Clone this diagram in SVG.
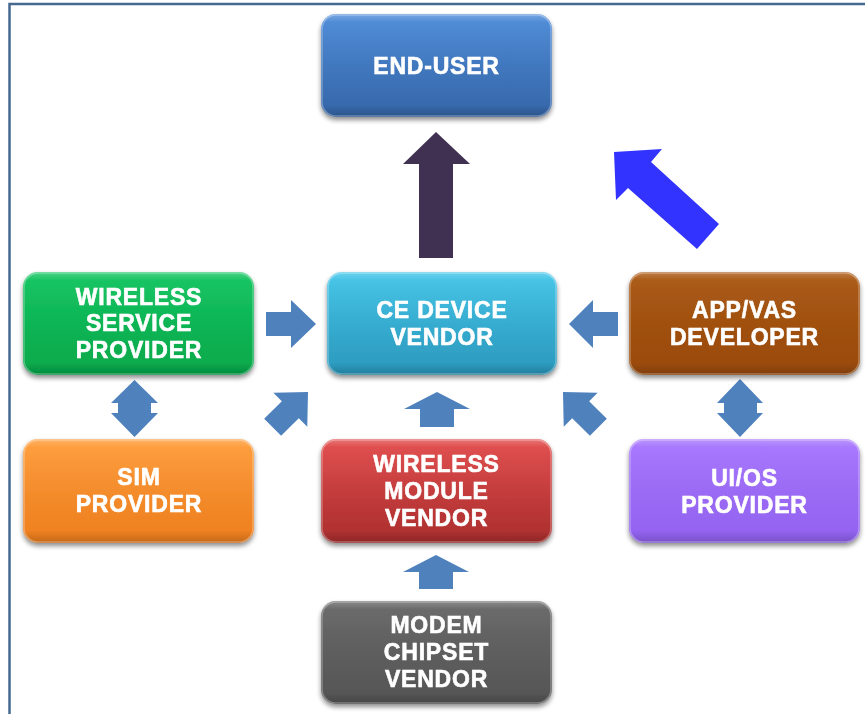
<svg xmlns="http://www.w3.org/2000/svg" width="865" height="714" viewBox="0 0 865 714">
  <style>
    .lbl { font-family: "Liberation Sans", Arial, sans-serif; font-weight: bold; font-size: 23px; fill: #ffffff; stroke: #ffffff; stroke-width: 0.6px; text-anchor: middle; letter-spacing: 0.8px; }
    .box { filter: url(#shadow); }
    .gloss { fill: url(#gloss); }
    .rim { fill: none; stroke: #ffffff; stroke-opacity: 0.3; stroke-width: 1.5; }
    .blk { fill: #4f81bd; }
  </style>
  <defs>
    <filter id="shadow" x="-10%" y="-10%" width="120%" height="130%">
      <feGaussianBlur in="SourceAlpha" stdDeviation="2.5"/>
      <feOffset dx="0" dy="3" result="b"/>
      <feComponentTransfer><feFuncA type="linear" slope="0.45"/></feComponentTransfer>
      <feMerge><feMergeNode/><feMergeNode in="SourceGraphic"/></feMerge>
    </filter>
    <linearGradient id="gloss" x1="0" y1="0" x2="0" y2="1">
      <stop offset="0" stop-color="#ffffff" stop-opacity="0.25"/>
      <stop offset="0.08" stop-color="#ffffff" stop-opacity="0.04"/>
      <stop offset="0.88" stop-color="#000000" stop-opacity="0"/>
      <stop offset="1" stop-color="#000000" stop-opacity="0.18"/>
    </linearGradient>
    <linearGradient id="gBlue" x1="0" y1="0" x2="0" y2="1"><stop offset="0" stop-color="#4b8ad8"/><stop offset="1" stop-color="#3566a8"/></linearGradient>
    <linearGradient id="gGreen" x1="0" y1="0" x2="0" y2="1"><stop offset="0" stop-color="#10c45e"/><stop offset="1" stop-color="#06a84a"/></linearGradient>
    <linearGradient id="gCyan" x1="0" y1="0" x2="0" y2="1"><stop offset="0" stop-color="#40c4e8"/><stop offset="1" stop-color="#2b98bc"/></linearGradient>
    <linearGradient id="gBrown" x1="0" y1="0" x2="0" y2="1"><stop offset="0" stop-color="#a9560f"/><stop offset="1" stop-color="#9a4a0b"/></linearGradient>
    <linearGradient id="gOrange" x1="0" y1="0" x2="0" y2="1"><stop offset="0" stop-color="#ff9c38"/><stop offset="1" stop-color="#ee7e1e"/></linearGradient>
    <linearGradient id="gRed" x1="0" y1="0" x2="0" y2="1"><stop offset="0" stop-color="#e24a4a"/><stop offset="1" stop-color="#aa2e2e"/></linearGradient>
    <linearGradient id="gPurple" x1="0" y1="0" x2="0" y2="1"><stop offset="0" stop-color="#a674ff"/><stop offset="1" stop-color="#9262f0"/></linearGradient>
    <linearGradient id="gGrey" x1="0" y1="0" x2="0" y2="1"><stop offset="0" stop-color="#666666"/><stop offset="1" stop-color="#555555"/></linearGradient>
  </defs>

  <rect width="865" height="714" fill="#ffffff"/>
  <!-- outer frame (top and left edges) -->
  <path d="M9.5 714 V4 H865" fill="none" stroke="#45698f" stroke-width="2.5"/>

  <g id="connectors">
    <!-- CE device vendor to end-user -->
    <polygon points="436,132 470,164 453,164 453,258 419,258 419,164 403,164" fill="#403152"/>
    <!-- app/vas developer to end-user -->
    <polygon points="614,152 662,149 651,162 719,224 697,249 628,188 616,200" fill="#3333ff"/>
    <!-- wireless service provider to CE device vendor -->
    <polygon class="blk" points="266,312 291,312 291,300 316,324 291,348 291,336 266,336"/>
    <!-- app/vas developer to CE device vendor -->
    <polygon class="blk" points="618,312 593,312 593,300 569,324 593,348 593,336 618,336"/>
    <!-- wireless module vendor to CE device vendor -->
    <polygon class="blk" points="437,392 470,409 454,409 454,427 420,427 420,409 404,409"/>
    <!-- modem chipset vendor to wireless module vendor -->
    <polygon class="blk" points="436,555 469,572 453,572 453,589 419,589 419,572 403,572"/>
    <!-- SIM provider to CE device vendor (diagonal) -->
    <polygon class="blk" points="0,-12 25,-12 25,-24 50,0 25,24 25,12 0,12" transform="translate(308,392) rotate(-45) translate(-50,0)"/>
    <!-- UI/OS provider to CE device vendor (diagonal) -->
    <polygon class="blk" points="0,-12 25,-12 25,-24 50,0 25,24 25,12 0,12" transform="translate(563,392) rotate(-135) translate(-50,0)"/>
    <!-- wireless service provider <-> SIM provider -->
    <polygon class="blk" points="134.5,380 158,403 151,403 151,413 158,413 134.5,437 111,413 118,413 118,403 111,403"/>
    <!-- app/vas developer <-> UI/OS provider -->
    <polygon class="blk" points="740,379 763,403 757,403 757,413 763,413 740,437 717,413 724,413 724,403 717,403"/>
  </g>

  <g id="end-user" class="box">
    <rect x="321" y="14" width="231" height="103" rx="15" fill="url(#gBlue)"/>
    <rect class="gloss" x="321" y="14" width="231" height="103" rx="15"/>
    <rect class="rim" x="322" y="15" width="229" height="101" rx="14"/>
    <text class="lbl" x="436.5" y="74">END-USER</text>
  </g>

  <g id="wireless-service-provider" class="box">
    <rect x="23" y="272" width="231" height="103" rx="15" fill="url(#gGreen)"/>
    <rect class="gloss" x="23" y="272" width="231" height="103" rx="15"/>
    <rect class="rim" x="24" y="273" width="229" height="101" rx="14"/>
    <text class="lbl" x="139" y="305">WIRELESS</text>
    <text class="lbl" x="139" y="331">SERVICE</text>
    <text class="lbl" x="139" y="358">PROVIDER</text>
  </g>

  <g id="ce-device-vendor" class="box">
    <rect x="327" y="272" width="230" height="103" rx="15" fill="url(#gCyan)"/>
    <rect class="gloss" x="327" y="272" width="230" height="103" rx="15"/>
    <rect class="rim" x="328" y="273" width="228" height="101" rx="14"/>
    <text class="lbl" x="442" y="318">CE DEVICE</text>
    <text class="lbl" x="442" y="345">VENDOR</text>
  </g>

  <g id="app-vas-developer" class="box">
    <rect x="629" y="272" width="231" height="103" rx="15" fill="url(#gBrown)"/>
    <rect class="gloss" x="629" y="272" width="231" height="103" rx="15"/>
    <rect class="rim" x="630" y="273" width="229" height="101" rx="14"/>
    <text class="lbl" x="744.5" y="318">APP/VAS</text>
    <text class="lbl" x="744.5" y="345">DEVELOPER</text>
  </g>

  <g id="sim-provider" class="box">
    <rect x="23" y="439" width="231" height="104" rx="15" fill="url(#gOrange)"/>
    <rect class="gloss" x="23" y="439" width="231" height="104" rx="15"/>
    <rect class="rim" x="24" y="440" width="229" height="102" rx="14"/>
    <text class="lbl" x="139" y="485">SIM</text>
    <text class="lbl" x="139" y="512">PROVIDER</text>
  </g>

  <g id="wireless-module-vendor" class="box">
    <rect x="321" y="439" width="231" height="104" rx="15" fill="url(#gRed)"/>
    <rect class="gloss" x="321" y="439" width="231" height="104" rx="15"/>
    <rect class="rim" x="322" y="440" width="229" height="102" rx="14"/>
    <text class="lbl" x="436.5" y="472">WIRELESS</text>
    <text class="lbl" x="436.5" y="499">MODULE</text>
    <text class="lbl" x="436.5" y="526">VENDOR</text>
  </g>

  <g id="ui-os-provider" class="box">
    <rect x="629" y="439" width="231" height="104" rx="15" fill="url(#gPurple)"/>
    <rect class="gloss" x="629" y="439" width="231" height="104" rx="15"/>
    <rect class="rim" x="630" y="440" width="229" height="102" rx="14"/>
    <text class="lbl" x="744.5" y="486">UI/OS</text>
    <text class="lbl" x="744.5" y="513">PROVIDER</text>
  </g>

  <g id="modem-chipset-vendor" class="box">
    <rect x="321" y="601" width="231" height="103" rx="15" fill="url(#gGrey)"/>
    <rect class="gloss" x="321" y="601" width="231" height="103" rx="15"/>
    <rect class="rim" x="322" y="602" width="229" height="101" rx="14"/>
    <text class="lbl" x="436.5" y="633">MODEM</text>
    <text class="lbl" x="436.5" y="660">CHIPSET</text>
    <text class="lbl" x="436.5" y="687">VENDOR</text>
  </g>
</svg>
